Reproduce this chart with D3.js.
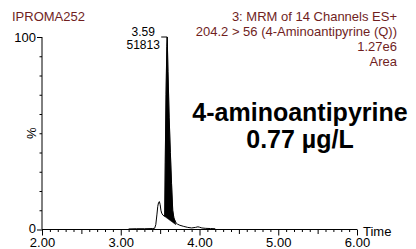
<!DOCTYPE html>
<html>
<head>
<meta charset="utf-8">
<script src="https://cdn.jsdelivr.net/npm/d3@7"></script>
<style>
	html, body { margin: 0; padding: 0; background: white; }
	#outer { width: 416px; height: 249px; }
	text { font-family: 'Liberation Sans', Arial, sans-serif; }
</style>
</head>
<body>
<div id="outer"></div>
<script>
////////// DATA //////////
// retention time (min) and relative intensity (%)
const traceTimes = [3.10, 3.20, 3.30, 3.40, 3.43, 3.445, 3.46, 3.47, 3.48, 3.49, 3.50, 3.51, 3.52, 3.535, 3.55, 3.558,
	3.565, 3.575, 3.585, 3.59, 3.60, 3.615, 3.63, 3.645, 3.66, 3.675, 3.69, 3.70, 3.72, 3.75, 3.80, 3.85, 3.90,
	3.95, 3.98, 4.00, 4.03, 4.08, 4.14, 4.20];
const traceIntensity = [0.3, 0.4, 0.4, 0.5, 0.6, 2.5, 8, 12, 14, 14.5, 13, 10, 8.5, 7.5, 7, 7,
	35, 70, 95, 100, 82, 58, 40, 24, 10, 6, 4.5, 3.6, 2.8, 2.2, 1.6, 1.1, 0.8,
	1.1, 1.4, 1.2, 0.8, 0.6, 0.5, 0.4];
// integration baseline of the labelled peak [time, intensity]
const peakStartPoint = [3.55, 7];
const peakEndPoint = [3.70, 2.5];
const peakApexTime = 3.59;
const peakLabels = ['3.59', '51813'];

const xTickValues = [2, 3, 4, 5, 6];
const xTickLabels = ['2.00', '3.00', '4.00', '5.00', '6.00'];
const yTickValues = [0, 100];
const yTickLabels = ['0', '100'];

const sampleName = 'IPROMA252';
const headerLines = ['3: MRM of 14 Channels ES+', '204.2 > 56 (4-Aminoantipyrine (Q))', '1.27e6', 'Area'];
const compoundLines = ['4-aminoantipyrine', '0.77 µg/L'];

function drawChromatogram () {
	const widget = {};

	////////// Hard Coded Defs //////////
	const width = 416, height = 249;
	const margin = {top: 37, left: 42, right: 59, bottom: 19.5};
	const headerColor = 'rgb(112,30,30)';
	const smallFont = '13px';

	widget.svg = d3.select('#outer').append('svg')
		.attr('width', width)
		.attr('height', height)
		.style('background-color', 'white');

	const x = d3.scaleLinear().domain([2, 6]).range([margin.left, width - margin.right]);
	const y = d3.scaleLinear().domain([0, 100]).range([height - margin.bottom, margin.top]);

	// ********************************************* HEADER ********************************************* //
	widget.svg.append('text')
		.attr('x', 12)
		.attr('y', 21)
		.attr('fill', headerColor)
		.style('font-size', smallFont)
		.text(sampleName);

	widget.svg.append('g').attr('class', 'header')
		.selectAll('text')
		.data(headerLines)
		.enter().append('text')
			.attr('x', 397)
			.attr('y', (d, i) => 21 + i * 15)
			.attr('text-anchor', 'end')
			.attr('fill', headerColor)
			.style('font-size', smallFont)
			.text(d => d);

	// ********************************************* AXES ********************************************* //
	const yAxis = widget.svg.append('g')
		.attr('transform', `translate(${margin.left},0)`)
		.call(d3.axisLeft(y).tickValues(d3.range(0, 101, 10)).tickSize(2.5).tickFormat(''));
	yAxis.selectAll('.tick').filter(d => yTickValues.includes(d)).select('line').attr('x2', -5);
	yAxis.select('.domain').attr('d', `M0,${y(0)}V${y(100)}`);
	yAxis.selectAll('.tick').filter(d => yTickValues.includes(d)).append('text')
		.attr('x', -6)
		.attr('dy', d => d === 0 ? '0.25em' : '0.35em')
		.attr('fill', 'black')
		.attr('text-anchor', 'end')
		.style('font-size', smallFont)
		.text(d => yTickLabels[yTickValues.indexOf(d)]);

	widget.svg.append('text')
		.attr('transform', `translate(36,${y(50)}) rotate(-90)`)
		.attr('text-anchor', 'middle')
		.style('font-size', smallFont)
		.text('%');

	const xAxis = widget.svg.append('g')
		.attr('transform', `translate(0,${y(0)})`)
		.call(d3.axisBottom(x).tickValues(d3.range(20, 61).map(d => d / 10)).tickSize(2.5).tickFormat(''));
	xAxis.select('.domain').attr('d', `M${x(2)},0H${x(6)}`);
	xAxis.selectAll('.tick line')
		.attr('y2', d => xTickValues.includes(Math.round(d * 10) / 10) ? 6 : (Math.abs(d * 2 - Math.round(d * 2)) < 1e-6 ? 4.5 : 2.5));
	xAxis.selectAll('.tick').filter(d => xTickValues.includes(Math.round(d * 10) / 10)).append('text')
		.attr('y', 17.5)
		.attr('fill', 'black')
		.attr('text-anchor', 'middle')
		.style('font-size', smallFont)
		.text(d => xTickLabels[xTickValues.indexOf(Math.round(d * 10) / 10)]);

	widget.svg.append('text')
		.attr('x', 363)
		.attr('y', y(0) + 6)
		.style('font-size', smallFont)
		.text('Time');

	widget.svg.selectAll('.domain, .tick line').attr('stroke', 'black').attr('stroke-width', 1);

	// ********************************************* TRACE ********************************************* //
	const points = traceTimes.map((t, i) => [t, traceIntensity[i]]);
	const peakPoints = points.filter(p => p[0] > peakStartPoint[0] && p[0] < peakEndPoint[0]);
	const fillPoly = [peakStartPoint, ...peakPoints, peakEndPoint];

	widget.svg.append('path')
		.datum(fillPoly)
		.attr('fill', 'black')
		.attr('stroke', 'black')
		.attr('stroke-width', 0.5)
		.attr('d', d3.line().x(d => x(d[0])).y(d => y(d[1])).curve(d3.curveLinearClosed));

	widget.svg.append('path')
		.datum(points)
		.attr('fill', 'none')
		.attr('stroke', 'black')
		.attr('stroke-width', 1)
		.attr('d', d3.line().x(d => x(d[0])).y(d => y(d[1])));

	// peak label with leader
	const apexX = x(peakApexTime), apexY = y(100);
	widget.svg.append('path')
		.attr('fill', 'none')
		.attr('stroke', 'black')
		.attr('d', `M${apexX - 6},${apexY}H${apexX}`);
	widget.svg.append('g').selectAll('text')
		.data(peakLabels)
		.enter().append('text')
			.attr('x', apexX - 24)
			.attr('y', (d, i) => apexY - 1.5 + i * 13)
			.attr('text-anchor', 'middle')
			.style('font-size', '12px')
			.text(d => d);

	// ********************************************* COMPOUND ********************************************* //
	widget.svg.append('g').selectAll('text')
		.data(compoundLines)
		.enter().append('text')
			.attr('x', 300)
			.attr('y', (d, i) => 121 + i * 27)
			.attr('text-anchor', 'middle')
			.style('font-size', '25px')
			.style('font-weight', 'bold')
			.text(d => d);
}

drawChromatogram();
</script>
</body>
</html>
